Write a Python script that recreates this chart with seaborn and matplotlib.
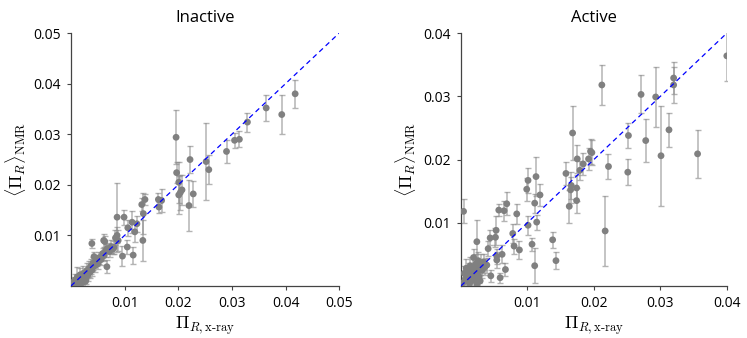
import numpy as np
import pandas as pd
import matplotlib
matplotlib.use('Agg')
from matplotlib import pyplot as plt
import seaborn as sns

# inactive state: x-ray value, nmr mean, nmr error
inact_x = [0.0418, 0.0393, 0.0364, 0.0329, 0.0314, 0.0305, 0.0290, 0.0257, 0.0252, 0.0222,
           0.0228, 0.0220, 0.0196, 0.0197, 0.0201, 0.0204, 0.0207, 0.0201, 0.0163, 0.0164,
           0.0169, 0.0138, 0.0135, 0.0132, 0.0134, 0.0119, 0.0123, 0.0114, 0.0099, 0.0086,
           0.0106, 0.0105, 0.0096, 0.0116, 0.0083, 0.0086, 0.0088, 0.0080, 0.0039, 0.0063,
           0.0061, 0.0067,
           0.0005, 0.0008, 0.0010, 0.0012, 0.0015, 0.0017, 0.0019, 0.0021, 0.0023, 0.0025,
           0.0027, 0.0029, 0.0031, 0.0033, 0.0035, 0.0037, 0.0039, 0.0041, 0.0043, 0.0045,
           0.0048, 0.0050, 0.0053, 0.0056, 0.0059, 0.0062, 0.0065, 0.0068, 0.0072, 0.0075,
           0.0078, 0.0003, 0.0018, 0.0028]
inact_y = [0.0380, 0.0339, 0.0352, 0.0324, 0.0290, 0.0288, 0.0266, 0.0230, 0.0246, 0.0250,
           0.0182, 0.0159, 0.0294, 0.0224, 0.0205, 0.0185, 0.0190, 0.0180, 0.0171, 0.0156,
           0.0169, 0.0171, 0.0143, 0.0161, 0.0090, 0.0107, 0.0123, 0.0126, 0.0136, 0.0136,
           0.0115, 0.0077, 0.0059, 0.0061, 0.0095, 0.0100, 0.0090, 0.0076, 0.0084, 0.0088,
           0.0090, 0.0038,
           0.0008, 0.0012, 0.0005, 0.0018, 0.0010, 0.0022, 0.0014, 0.0007, 0.0025, 0.0016,
           0.0009, 0.0030, 0.0021, 0.0034, 0.0027, 0.0039, 0.0031, 0.0045, 0.0058, 0.0040,
           0.0050, 0.0044, 0.0056, 0.0052, 0.0064, 0.0060, 0.0070, 0.0074, 0.0068, 0.0078,
           0.0073, 0.0002, 0.0003, 0.0012]
inact_err = [0.0028, 0.0038, 0.0025, 0.0019, 0.0016, 0.0015, 0.0023, 0.0029, 0.0076, 0.0026,
             0.0026, 0.0050, 0.0053, 0.0021, 0.0040, 0.0035, 0.0030, 0.0038, 0.0013, 0.0011,
             0.0022, 0.0011, 0.0040, 0.0012, 0.0040, 0.0020, 0.0016, 0.0022, 0.0015, 0.0068,
             0.0016, 0.0014, 0.0020, 0.0017, 0.0015, 0.0016, 0.0020, 0.0012, 0.0008, 0.0010,
             0.0012, 0.0013,
             0.0010, 0.0012, 0.0008, 0.0020, 0.0010, 0.0014, 0.0011, 0.0009, 0.0015, 0.0010,
             0.0010, 0.0015, 0.0012, 0.0016, 0.0011, 0.0015, 0.0012, 0.0013, 0.0010, 0.0012,
             0.0011, 0.0010, 0.0012, 0.0010, 0.0012, 0.0011, 0.0012, 0.0010, 0.0011, 0.0012,
             0.0010, 0.0005, 0.0006, 0.0008]

# active state
act_x = [0.0400, 0.0320, 0.0320, 0.0293, 0.0271, 0.0212, 0.0301, 0.0313, 0.0278, 0.0252,
         0.0251, 0.0356, 0.0222, 0.0217, 0.0197, 0.0195, 0.0192, 0.0184, 0.0179, 0.0175,
         0.0174, 0.0174, 0.0168, 0.0166, 0.0165, 0.0158, 0.0163, 0.0138, 0.0143, 0.0119,
         0.0113, 0.0114, 0.0111, 0.0101, 0.0099, 0.0111, 0.0107, 0.0101, 0.0088, 0.0084,
         0.0080, 0.0078, 0.0069, 0.0065, 0.0057, 0.0067, 0.0059, 0.0045, 0.0053, 0.0052,
         0.0044, 0.0041, 0.0054, 0.0054, 0.0062, 0.0024, 0.0004, 0.0039,
         0.0003, 0.0005, 0.0007, 0.0008, 0.0010, 0.0011, 0.0012, 0.0013, 0.0014, 0.0015,
         0.0016, 0.0017, 0.0018, 0.0019, 0.0020, 0.0021, 0.0022, 0.0023, 0.0024, 0.0025,
         0.0026, 0.0027, 0.0028, 0.0029, 0.0030, 0.0032, 0.0034, 0.0036]
act_y = [0.0364, 0.0329, 0.0318, 0.0299, 0.0303, 0.0318, 0.0206, 0.0247, 0.0230, 0.0238,
         0.0180, 0.0209, 0.0189, 0.0087, 0.0211, 0.0213, 0.0201, 0.0193, 0.0183, 0.0201,
         0.0155, 0.0135, 0.0242, 0.0159, 0.0152, 0.0178, 0.0126, 0.0073, 0.0040, 0.0144,
         0.0173, 0.0101, 0.0131, 0.0167, 0.0153, 0.0032, 0.0066, 0.0096, 0.0057, 0.0114,
         0.0063, 0.0083, 0.0130, 0.0119, 0.0120, 0.0026, 0.0013, 0.0016, 0.0088, 0.0077,
         0.0076, 0.0059, 0.0047, 0.0041, 0.0050, 0.0070, 0.0118, 0.0033,
         0.0005, 0.0020, 0.0012, 0.0028, 0.0008, 0.0018, 0.0025, 0.0004, 0.0032, 0.0015,
         0.0022, 0.0009, 0.0030, 0.0045, 0.0018, 0.0026, 0.0012, 0.0035, 0.0003, 0.0022,
         0.0040, 0.0015, 0.0030, 0.0008, 0.0036, 0.0025, 0.0038, 0.0030]
act_err = [0.0040, 0.0025, 0.0028, 0.0047, 0.0030, 0.0031, 0.0079, 0.0027, 0.0034, 0.0020,
           0.0021, 0.0038, 0.0020, 0.0055, 0.0020, 0.0020, 0.0018, 0.0017, 0.0015, 0.0022,
           0.0020, 0.0020, 0.0042, 0.0022, 0.0020, 0.0018, 0.0026, 0.0013, 0.0013, 0.0017,
           0.0031, 0.0012, 0.0015, 0.0020, 0.0018, 0.0028, 0.0010, 0.0015, 0.0014, 0.0016,
           0.0012, 0.0015, 0.0018, 0.0016, 0.0010, 0.0010, 0.0008, 0.0010, 0.0023, 0.0015,
           0.0012, 0.0012, 0.0012, 0.0012, 0.0014, 0.0034, 0.0019, 0.0012,
           0.0008, 0.0012, 0.0010, 0.0014, 0.0010, 0.0012, 0.0012, 0.0008, 0.0014, 0.0010,
           0.0012, 0.0009, 0.0013, 0.0014, 0.0011, 0.0012, 0.0010, 0.0015, 0.0008, 0.0012,
           0.0014, 0.0010, 0.0013, 0.0009, 0.0015, 0.0012, 0.0013, 0.0012]

panels = [('Inactive', inact_x, inact_y, inact_err, 0.05, [0.01, 0.02, 0.03, 0.04, 0.05]),
          ('Active', act_x, act_y, act_err, 0.04, [0.01, 0.02, 0.03, 0.04])]

sns.set_style('ticks')
plt.rcParams['font.family'] = ['Open Sans', 'DejaVu Sans']
plt.rcParams['mathtext.fontset'] = 'cm'

fig = plt.figure(figsize=(7.47, 3.38), dpi=100)
boxes = [[0.095, 0.154, 0.359, 0.748], [0.617, 0.154, 0.356, 0.748]]

for box, (title, xs, ys, errs, lim, ticks) in zip(boxes, panels):
    ax = fig.add_axes(box)
    df = pd.DataFrame({'xray': xs, 'nmr': ys, 'err': errs})
    ax.errorbar(df['xray'], df['nmr'], yerr=df['err'], fmt='none',
                ecolor='#8c8c8c', alpha=0.65, elinewidth=1.1, capsize=2.5, capthick=1.0, zorder=2)
    sns.scatterplot(data=df, x='xray', y='nmr', ax=ax, color='#808080', s=24,
                    edgecolor='none', linewidth=0, zorder=3)
    ax.axline((0, 0), slope=1, color='blue', ls=(0, (4, 3)), lw=0.9, zorder=4)
    ax.set_xlim(0, lim)
    ax.set_ylim(0, lim)
    ax.set_xticks(ticks)
    ax.set_yticks(ticks)
    ax.set_xticklabels([f'{t:.2f}' for t in ticks])
    ax.set_yticklabels([f'{t:.2f}' for t in ticks])
    ax.tick_params(labelsize=10, length=3, width=0.8, color='#444444', labelcolor='black', pad=4)
    for s in ['left', 'bottom']:
        ax.spines[s].set_color('#444444')
        ax.spines[s].set_linewidth(0.9)
    sns.despine(ax=ax)
    ax.set_title(title, fontsize=12, pad=8, color='black')
    ax.set_xlabel(r'$\Pi_{R,\mathrm{x\text{-}ray}}$', fontsize=13, labelpad=3, color='black')
    ax.set_ylabel(r'$\langle\Pi_R\rangle_{\mathrm{NMR}}$', fontsize=13, labelpad=4, color='black')

fig.savefig('out.png', dpi=100)
